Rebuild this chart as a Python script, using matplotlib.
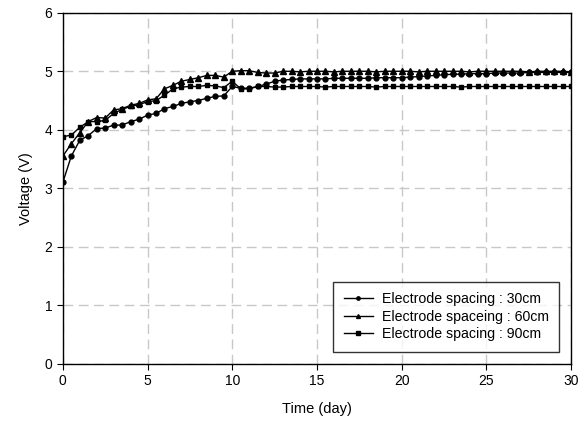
import numpy as np
import matplotlib
matplotlib.use("Agg")
import matplotlib.pyplot as plt

plt.rcParams['font.family'] = ['Liberation Sans', 'DejaVu Sans']

# time axis, one reading every half day
days = np.arange(0, 30.5, 0.5)

v30 = [3.10, 3.55, 3.82, 3.90, 4.02, 4.03, 4.08, 4.08, 4.14, 4.18,
       4.25, 4.28, 4.36, 4.40, 4.45, 4.48, 4.50, 4.54, 4.57, 4.58,
       4.74, 4.71, 4.71, 4.74, 4.78, 4.83, 4.85,
       4.86, 4.87, 4.87, 4.87, 4.87, 4.88, 4.88, 4.88, 4.88, 4.88,
       4.89, 4.89, 4.89, 4.89,
       4.90, 4.91, 4.92, 4.93, 4.94, 4.95, 4.95, 4.96, 4.96, 4.96,
       4.97, 4.97, 4.97, 4.97, 4.98, 4.98, 4.98, 4.98, 4.98, 4.98]

v60 = [3.55, 3.76, 3.95, 4.14, 4.21, 4.20, 4.34, 4.36, 4.42, 4.45,
       4.51, 4.53, 4.70, 4.76, 4.83, 4.86, 4.89, 4.93, 4.93, 4.90,
       5.00, 5.01, 5.01, 4.98, 4.97, 4.97,
       5.00, 5.00, 4.99, 5.00, 5.00, 5.00, 4.99, 5.00, 5.00, 5.00,
       5.00, 4.99, 5.00, 5.00, 5.00, 5.00, 4.99, 5.00, 5.00, 5.00,
       5.00, 5.00, 4.99, 5.00, 5.00, 5.00, 5.00, 5.00, 5.00, 4.99,
       5.00, 5.00, 5.00, 5.00, 4.99]

v90 = [3.88, 3.91, 4.04, 4.14, 4.14, 4.16, 4.28, 4.35, 4.40, 4.43,
       4.48, 4.50, 4.59, 4.70, 4.73, 4.74, 4.74, 4.76, 4.75, 4.72,
       4.83, 4.70, 4.70, 4.74, 4.74,
       4.73, 4.73, 4.74, 4.74, 4.74, 4.74, 4.73, 4.74, 4.74, 4.74,
       4.74, 4.74, 4.73, 4.74, 4.74, 4.74, 4.74, 4.74, 4.74, 4.74,
       4.74, 4.74, 4.73, 4.74, 4.74, 4.74, 4.74, 4.74, 4.74, 4.74,
       4.74, 4.74, 4.74, 4.74, 4.74, 4.74]

labels = ['Electrode spacing : 30cm', 'Electrode spaceing : 60cm',
          'Electrode spacing : 90cm']

fig = plt.figure(figsize=(5.87, 4.26), dpi=100)
ax = fig.add_axes([0.107, 0.146, 0.866, 0.824])

ax.plot(days, v30, color='k', lw=1, marker='o', ms=3.5, label=labels[0])
ax.plot(days, v60, color='k', lw=1, marker='^', ms=4, label=labels[1])
ax.plot(days, v90, color='k', lw=1, marker='s', ms=3.5, label=labels[2])

ax.set_xlim(0, 30)
ax.set_ylim(0, 6)
ax.set_xticks(range(0, 31, 5))
ax.set_yticks(range(0, 7))
ax.grid(True, color='#c8c8c8', linestyle=(0, (7, 4)), lw=1)
ax.set_axisbelow(True)
ax.tick_params(direction='out', length=4, labelsize=10, top=False, right=False)
for s in ax.spines.values():
    s.set_linewidth(1)

ax.set_xlabel('Time (day)', fontsize=10.5, labelpad=10)
ax.set_ylabel('Voltage (V)', fontsize=10.5, labelpad=8)

leg = ax.legend(loc='lower right', bbox_to_anchor=(0.977, 0.034),
                borderaxespad=0, fontsize=10.2,
                frameon=True, fancybox=False, edgecolor='k',
                handlelength=2.1, handletextpad=0.6, borderpad=0.75,
                labelspacing=0.25, markerscale=0.7)
leg.get_frame().set_linewidth(1)

fig.savefig('out.png', dpi=100)
